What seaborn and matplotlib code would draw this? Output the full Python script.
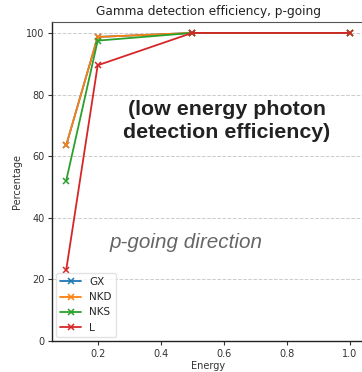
import matplotlib
matplotlib.use("Agg")
import matplotlib.pyplot as plt
import seaborn as sns
import pandas as pd

# Photon energies and detection efficiencies (%) per detector configuration
energy = [0.1, 0.2, 0.5, 1.0]
series_names = ["GX", "NKD", "NKS", "L"]
gx = [63.5, 98.7, 100.0, 100.0]
nkd = [63.5, 98.7, 100.0, 100.0]
nks = [52.0, 97.5, 100.0, 100.0]
l_vals = [23.0, 89.5, 100.0, 100.0]
y_ticks = [0, 20, 40, 60, 80, 100]
x_ticks = [0.2, 0.4, 0.6, 0.8, 1.0]

sns.set_style("white")
plt.rcParams["font.family"] = ["DejaVu Sans"]

frames = []
for name, vals in zip(series_names, [gx, nkd, nks, l_vals]):
    frames.append(pd.DataFrame({"Energy": energy, "Percentage": vals, "det": name}))
df = pd.concat(frames, ignore_index=True)

fig = plt.figure(figsize=(3.62, 3.72), dpi=100)
ax = fig.add_axes([0.1436, 0.0833, 0.862, 0.858])

palette = sns.color_palette("tab10", 4)
for name, color in zip(series_names, palette):
    sub = df[df["det"] == name]
    sns.lineplot(data=sub, x="Energy", y="Percentage", ax=ax, color=color,
                 marker="x", markersize=5, markeredgecolor=color,
                 markeredgewidth=1.1, linewidth=1.3, label=name)

ax.set_ylim(0, 103.6)
ax.set_xlim(0.055, 1.045)
ax.set_yticks(y_ticks)
ax.set_xticks(x_ticks)
ax.tick_params(axis="both", labelsize=7, colors="#333333", length=3, width=0.8,
               pad=2.5, left=True, bottom=True)
ax.yaxis.grid(True, linestyle="--", color="#cccccc", linewidth=0.7)
ax.xaxis.grid(False)
for side in ["left", "bottom"]:
    ax.spines[side].set_color("#222222")
    ax.spines[side].set_linewidth(1.0)
ax.spines["top"].set_color("#555555")
ax.spines["right"].set_visible(False)

ax.set_xlabel("Energy", fontsize=7, color="#333333", labelpad=2)
ax.set_ylabel("Percentage", fontsize=7, color="#333333", labelpad=3)
ax.set_title("Gamma detection efficiency, p-going", fontsize=8.7, color="#222222", pad=5)

leg = ax.legend(loc="lower left", fontsize=7.5, frameon=True, handlelength=2.0,
                borderaxespad=0.4)
leg.get_frame().set_edgecolor("#dddddd")

fig.text(0.626, 0.675, "(low energy photon\ndetection efficiency)", ha="center", va="center",
         fontsize=15.4, fontweight="bold", color="#222222", family="Liberation Sans",
         linespacing=1.25)
fig.text(0.515, 0.347, "p-going direction", ha="center", va="center",
         fontsize=14.9, style="italic", color="#666666", family="Liberation Sans")

fig.savefig("out.png", dpi=100)
